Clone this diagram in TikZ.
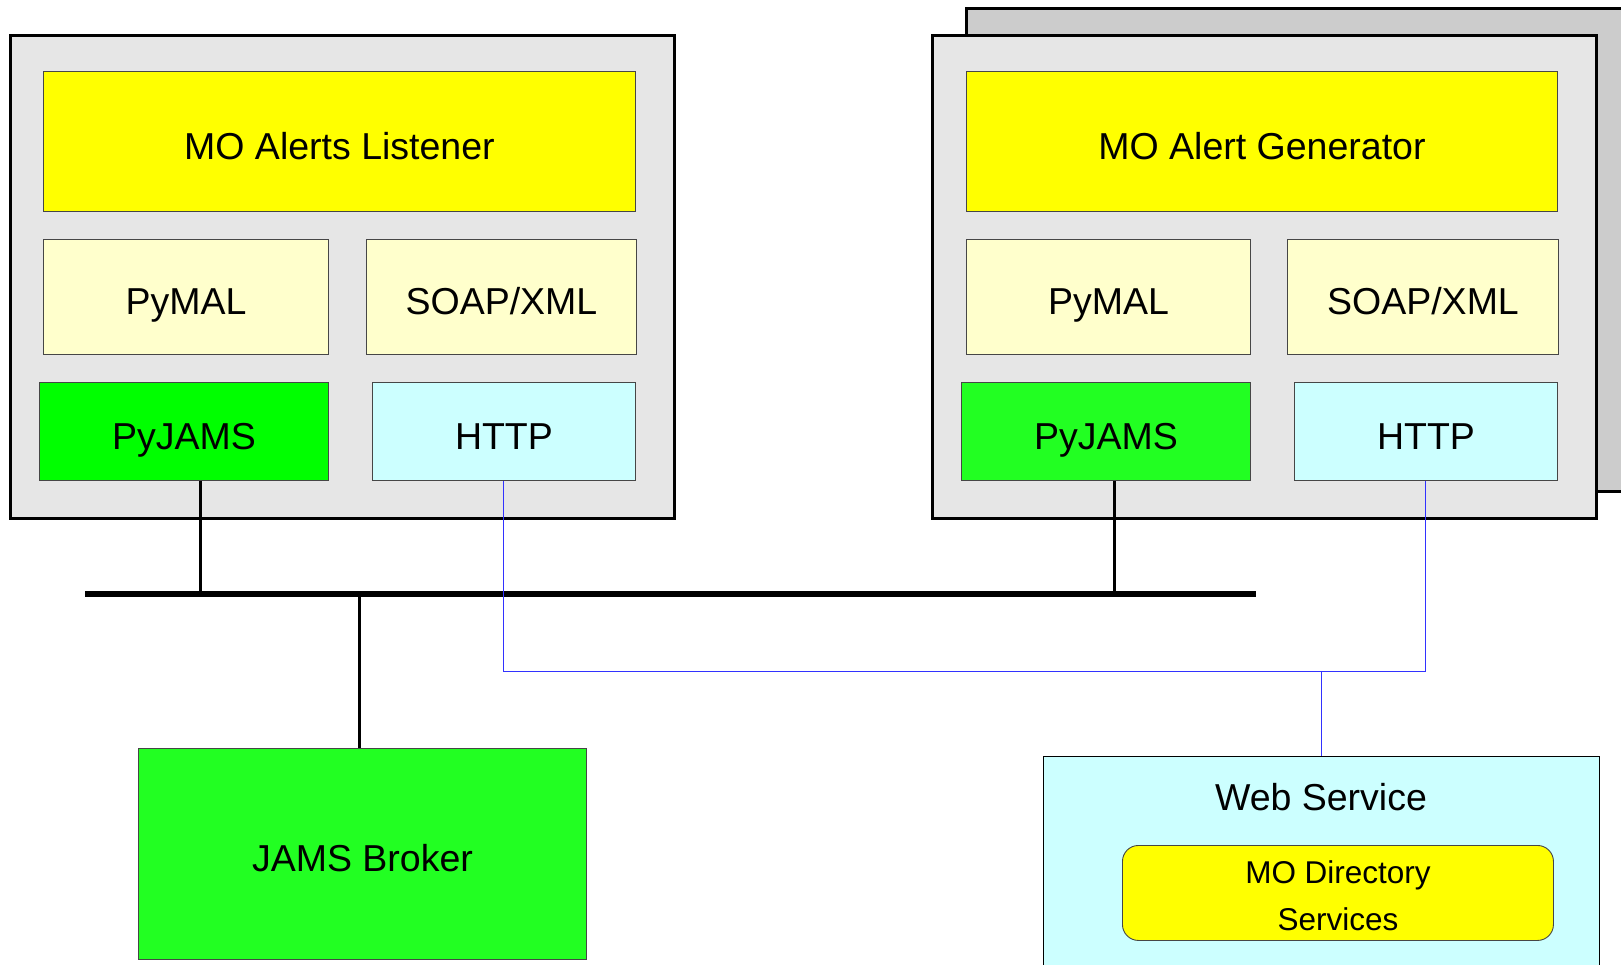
\documentclass[tikz,border=0pt]{standalone}
\usepackage{fontspec}
\setmainfont{Liberation Sans}
\usepackage{tikz}
\usetikzlibrary{positioning, calc}
\definecolor{HostGray}{RGB}{230,230,230}
\definecolor{ShadowGray}{RGB}{204,204,204}
\definecolor{AlertYellow}{RGB}{255,255,0}
\definecolor{LibCream}{RGB}{255,255,204}
\definecolor{JamsGreen}{RGB}{0,255,0}
\definecolor{JamsLime}{RGB}{34,255,34}
\definecolor{HttpCyan}{RGB}{204,255,255}
\definecolor{LinkBlue}{RGB}{50,50,255}
\definecolor{EdgeGray}{RGB}{70,70,70}

\begin{document}
\begin{tikzpicture}[x=1pt, y=-1pt,
          host/.style={draw, line width=3pt, fill=HostGray, anchor=north west,
                       inner sep=0pt, minimum width=664pt, minimum height=483pt},
          layer/.style={draw=EdgeGray, line width=0.9pt, anchor=north west,
                        inner sep=0pt, text height=36pt, text depth=0pt,
                        font=\fontsize{37.5}{45}\selectfont},
          rounded layer/.style={draw=EdgeGray, line width=0.9pt, anchor=north west,
                        inner sep=0pt, rounded corners=16pt},
          wire/.style={line width=3pt},
          bus/.style={line width=6pt},
          link/.style={draw=LinkBlue, line width=1pt}
        ]
        \useasboundingbox (0,0) rectangle (1621,964);
        \clip (0,0) rectangle (1621,964);

        % Hosts
        \node[host] (listenerHost) at (9,34) {};
        \node[host, fill=ShadowGray] (generatorShadow) at (965,7) {};
        \node[host] (generatorHost) at (931,34) {};

        % Listener stack
        \node[layer, fill=AlertYellow, minimum width=592pt, minimum height=140pt]
              (listener) at (43,71) {MO Alerts Listener};
        \node[layer, fill=LibCream, minimum width=285pt, minimum height=115pt]
              (pymalL) at (43,239) {PyMAL};
        \node[layer, fill=LibCream, minimum width=270pt, minimum height=115pt]
              (soapL) at (366,239) {SOAP/XML};
        \node[layer, fill=JamsGreen, minimum width=289pt, minimum height=98pt]
              (pyjamsL) at (39,382) {PyJAMS};
        \node[layer, fill=HttpCyan, minimum width=263pt, minimum height=98pt]
              (httpL) at (372,382) {HTTP};

        % Generator stack
        \node[layer, fill=AlertYellow, minimum width=591pt, minimum height=140pt]
              (generator) at (966,71) {MO Alert Generator};
        \node[layer, fill=LibCream, minimum width=284pt, minimum height=115pt]
              (pymalR) at (966,239) {PyMAL};
        \node[layer, fill=LibCream, minimum width=271pt, minimum height=115pt]
              (soapR) at (1287,239) {SOAP/XML};
        \node[layer, fill=JamsLime, minimum width=289pt, minimum height=98pt]
              (pyjamsR) at (961,382) {PyJAMS};
        \node[layer, fill=HttpCyan, minimum width=263pt, minimum height=98pt]
              (httpR) at (1294,382) {HTTP};

        % Broker and web service
        \node[layer, fill=JamsLime, minimum width=448pt, minimum height=211pt]
              (broker) at (138,748) {JAMS Broker};
        \node[layer, draw=black, fill=HttpCyan, minimum width=556pt, minimum height=230pt]
              (web) at (1043,756) {};
        \node[font=\fontsize{37.5}{45}\selectfont] (webTitle) at (1321,797) {Web Service};
        \node[rounded layer, fill=AlertYellow, minimum width=431pt, minimum height=95pt]
              (directory) at (1122,845) {};
        \node[align=center, font=\fontsize{31.5}{47}\selectfont]
              (directoryLabel) at (1338,896) {MO Directory\\Services};

        % Message bus
        \coordinate (busW) at (85,594);
        \coordinate (busE) at (1256,594);
        \coordinate (tapL) at (200,594);
        \coordinate (tapR) at (1114,594);
        \coordinate (tapB) at (359,594);
        \draw[bus] (busW) -- (busE);
        \draw[wire] (pyjamsL.south -| tapL) -- (tapL);
        \draw[wire] (pyjamsR.south -| tapR) -- (tapR);
        \draw[wire] (tapB) -- (broker.north -| tapB);

        % HTTP links
        \coordinate (webJ) at (1321,671);
        \draw[link] (httpL.south) |- (webJ) -| (httpR.south);
        \draw[link] (webJ) -- (web.north -| webJ);
      \end{tikzpicture}
\end{document}
